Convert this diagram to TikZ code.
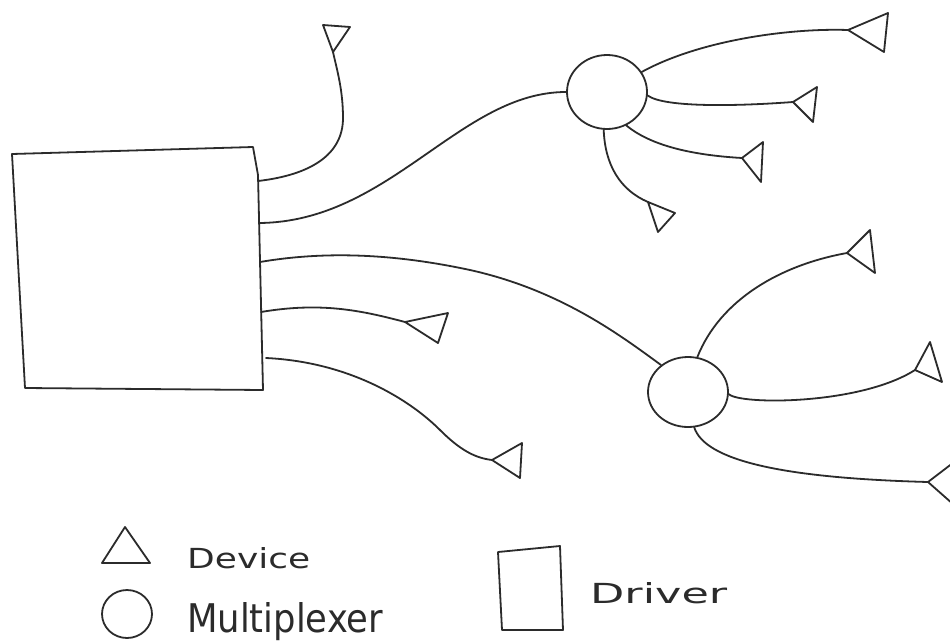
\documentclass[tikz,border=0pt]{standalone}
\usepackage{graphicx}
\usepackage{fontspec}
\setsansfont{DejaVu Sans}
\usetikzlibrary{shapes.geometric}
\definecolor{ink}{HTML}{2B2B2B}
\tikzset{
  inkline/.style={draw=ink, line width=1.8pt, line cap=round, line join=round},
  mux/.style={ellipse, draw=ink, line width=1.8pt, inner sep=0pt, minimum width=80pt, minimum height=74pt},
  legendtext/.style={anchor=base west, text=ink, inner sep=0pt, font=\sffamily}
}
\begin{document}
\begin{tikzpicture}[x=1pt,y=-1pt]
\useasboundingbox (0,0) rectangle (950,643);
\fill[white] (0,0) rectangle (950,643);
\clip (0,0) rectangle (950,643);

% Driver box
\coordinate (dA) at (12,154);
\coordinate (dB) at (253,147);
\coordinate (dC) at (258,175);
\coordinate (dD) at (263,390);
\coordinate (dE) at (25,388);
\draw[inkline] (dA) -- (dB) -- (dC) -- (dD) -- (dE) -- cycle;
\coordinate (d1) at (258,181);
\coordinate (d2) at (259,223);
\coordinate (d3) at (260,262);
\coordinate (d4) at (261,312);
\coordinate (d5) at (266,358);

% Multiplexers
\node[mux] (m1) at (607,92) {};
\node[mux, minimum height=70pt] (m2) at (688,392) {};

% Device attach points
\coordinate (t1) at (333,52);
\coordinate (t2) at (405,322);
\coordinate (t3) at (492,460);
\coordinate (a1) at (848,30);
\coordinate (a2) at (793,102);
\coordinate (a3) at (742,158);
\coordinate (a4) at (648,202);
\coordinate (b1) at (847,253);
\coordinate (b2) at (915,370);
\coordinate (b3) at (928,482);

% Devices (triangles)
\draw[inkline] (t1) -- (323,25) -- (350,27) -- cycle;
\draw[inkline] (t2) -- (448,313) -- (438,343) -- cycle;
\draw[inkline] (t3) -- (522,443) -- (520,478) -- cycle;
\draw[inkline] (a1) -- (888,13) -- (884,52) -- cycle;
\draw[inkline] (a2) -- (817,87) -- (813,122) -- cycle;
\draw[inkline] (a3) -- (763,142) -- (761,182) -- cycle;
\draw[inkline] (a4) -- (675,213) -- (658,232) -- cycle;
\draw[inkline] (b1) -- (870,230) -- (875,273) -- cycle;
\draw[inkline] (b2) -- (930,342) -- (942,382) -- cycle;
\draw[inkline] (b3) -- (962,456) -- (962,512) -- cycle;

% Connectors from driver
\draw[inkline] (d1) .. controls (310,175) and (343,155) .. (343,118)
               .. controls (343,90) and (337,70) .. (t1);
\draw[inkline] (d2) .. controls (390,222) and (460,92) .. (m1.west);
\draw[inkline] (d3) .. controls (330,250) and (400,255) .. (470,270)
               .. controls (560,290) and (620,335) .. (m2.135);
\draw[inkline] (d4) .. controls (320,302) and (360,310) .. (t2);
\draw[inkline] (d5) .. controls (350,362) and (410,400) .. (440,430)
               .. controls (460,450) and (475,458) .. (t3);

% Connectors from multiplexer 1
\draw[inkline] (m1.30) .. controls (700,40) and (790,28) .. (a1);
\draw[inkline] (m1.-5) .. controls (665,108) and (740,106) .. (a2);
\draw[inkline] (m1.-60) .. controls (650,145) and (690,155) .. (a3);
\draw[inkline] (m1.-95) .. controls (605,165) and (620,190) .. (a4);

% Connectors from multiplexer 2
\draw[inkline] (m2.75) .. controls (720,300) and (780,265) .. (b1);
\draw[inkline] (m2.-3) .. controls (740,405) and (860,405) .. (b2);
\draw[inkline] (m2.-80) .. controls (705,460) and (780,478) .. (b3);

% Legend
\coordinate (lt) at (125,527);
\draw[inkline] (lt) -- (150,563) -- (102,563) -- cycle;
\node[legendtext] (ldev) at (187,568) {\resizebox{123pt}{21pt}{Device}};
\node[ellipse, draw=ink, line width=1.8pt, inner sep=0pt, minimum width=50pt, minimum height=48pt] (lmux) at (127,614) {};
\node[legendtext] (lmuxt) at (187,632) {\resizebox{196pt}{30pt}{Multiplexer}};
\coordinate (lrA) at (498,552);
\draw[inkline] (lrA) -- (560,546) -- (563,630) -- (502,630) -- cycle;
\node[legendtext] (ldrv) at (590,603) {\resizebox{137pt}{21pt}{Driver}};
\end{tikzpicture}
\end{document}
